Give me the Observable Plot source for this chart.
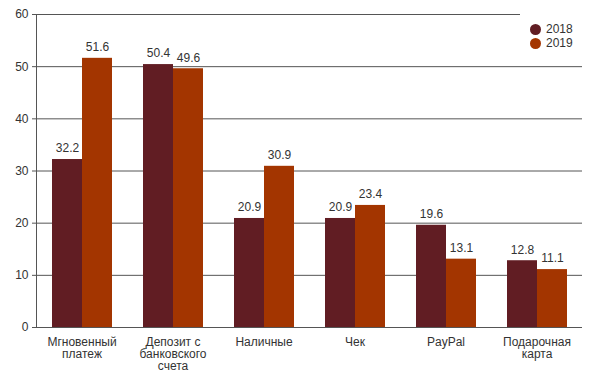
<!DOCTYPE html>
<html><head><meta charset="utf-8">
<script src="https://cdn.jsdelivr.net/npm/d3@7"></script>
<script src="https://cdn.jsdelivr.net/npm/@observablehq/plot@0.6"></script>
<style>
body{margin:0;background:#fff;font-family:"Liberation Sans",Arial,sans-serif;}
#wrap{position:relative;width:594px;height:384px;}
#legend{position:absolute;left:520px;top:14px;width:74px;height:40px;background:#fff;font-size:12px;color:#333;}
#legend .row{position:absolute;left:10px;display:flex;align-items:center;height:14px;}
#legend .dot{width:11px;height:11px;border-radius:50%;margin-right:5px;}
</style></head>
<body><div id="wrap"><div id="legend"></div></div>
<script>
const categories = ["Мгновенный\nплатеж","Депозит с\nбанковского\nсчета","Наличные","Чек","PayPal","Подарочная\nкарта"];
const years = ["2018","2019"];
const values2018 = [32.2, 50.4, 20.9, 20.9, 19.6, 12.8];
const values2019 = [51.6, 49.6, 30.9, 23.4, 13.1, 11.1];
const colors = ["#611d23", "#a33500"];
const yTicks = [0,10,20,30,40,50,60];

const data = [];
categories.forEach((c,i)=>{
  data.push({cat:c, year:years[0], value:values2018[i]});
  data.push({cat:c, year:years[1], value:values2019[i]});
});

const plot = Plot.plot({
  width:594, height:384,
  marginLeft:34, marginRight:10, marginTop:14, marginBottom:57,
  style:{fontFamily:'"Liberation Sans",Arial,sans-serif', fontSize:"12px", color:"#333", background:"transparent"},
  fx:{domain:categories, padding:0, label:null},
  x:{domain:years, paddingInner:0, paddingOuter:0.5, axis:null},
  y:{domain:[0,60], ticks:yTicks, label:null},
  color:{domain:years, range:colors},
  marks:[
    Plot.gridY(yTicks, {stroke:"#555", strokeOpacity:1, strokeWidth:1}),
    Plot.axisY(yTicks, {tickSize:4, stroke:"#555", tickPadding:4, fontSize:12, label:null}),
    Plot.axisFx({anchor:"bottom", tickSize:0, tickPadding:10, fontSize:12, lineHeight:1, label:null, textAnchor:"middle"}),
    Plot.barY(data, {fx:"cat", x:"year", y:"value", fill:"year"}),
    Plot.text(data, {fx:"cat", x:"year", y:"value", text:d=>d.value.toFixed(1), dy:-11, fontSize:12, fill:"#333"}),
    Plot.frame({anchor:"left", facetAnchor:"left", stroke:"#555"})
  ]
});
document.getElementById("wrap").prepend(plot);

const lg = document.getElementById("legend");
years.forEach((y,i)=>{
  const r = document.createElement("div");
  r.className="row";
  r.style.top = (8 + i*14) + "px";
  r.innerHTML = `<span class="dot" style="background:${colors[i]}"></span><span>${y}</span>`;
  lg.appendChild(r);
});
</script></body></html>
